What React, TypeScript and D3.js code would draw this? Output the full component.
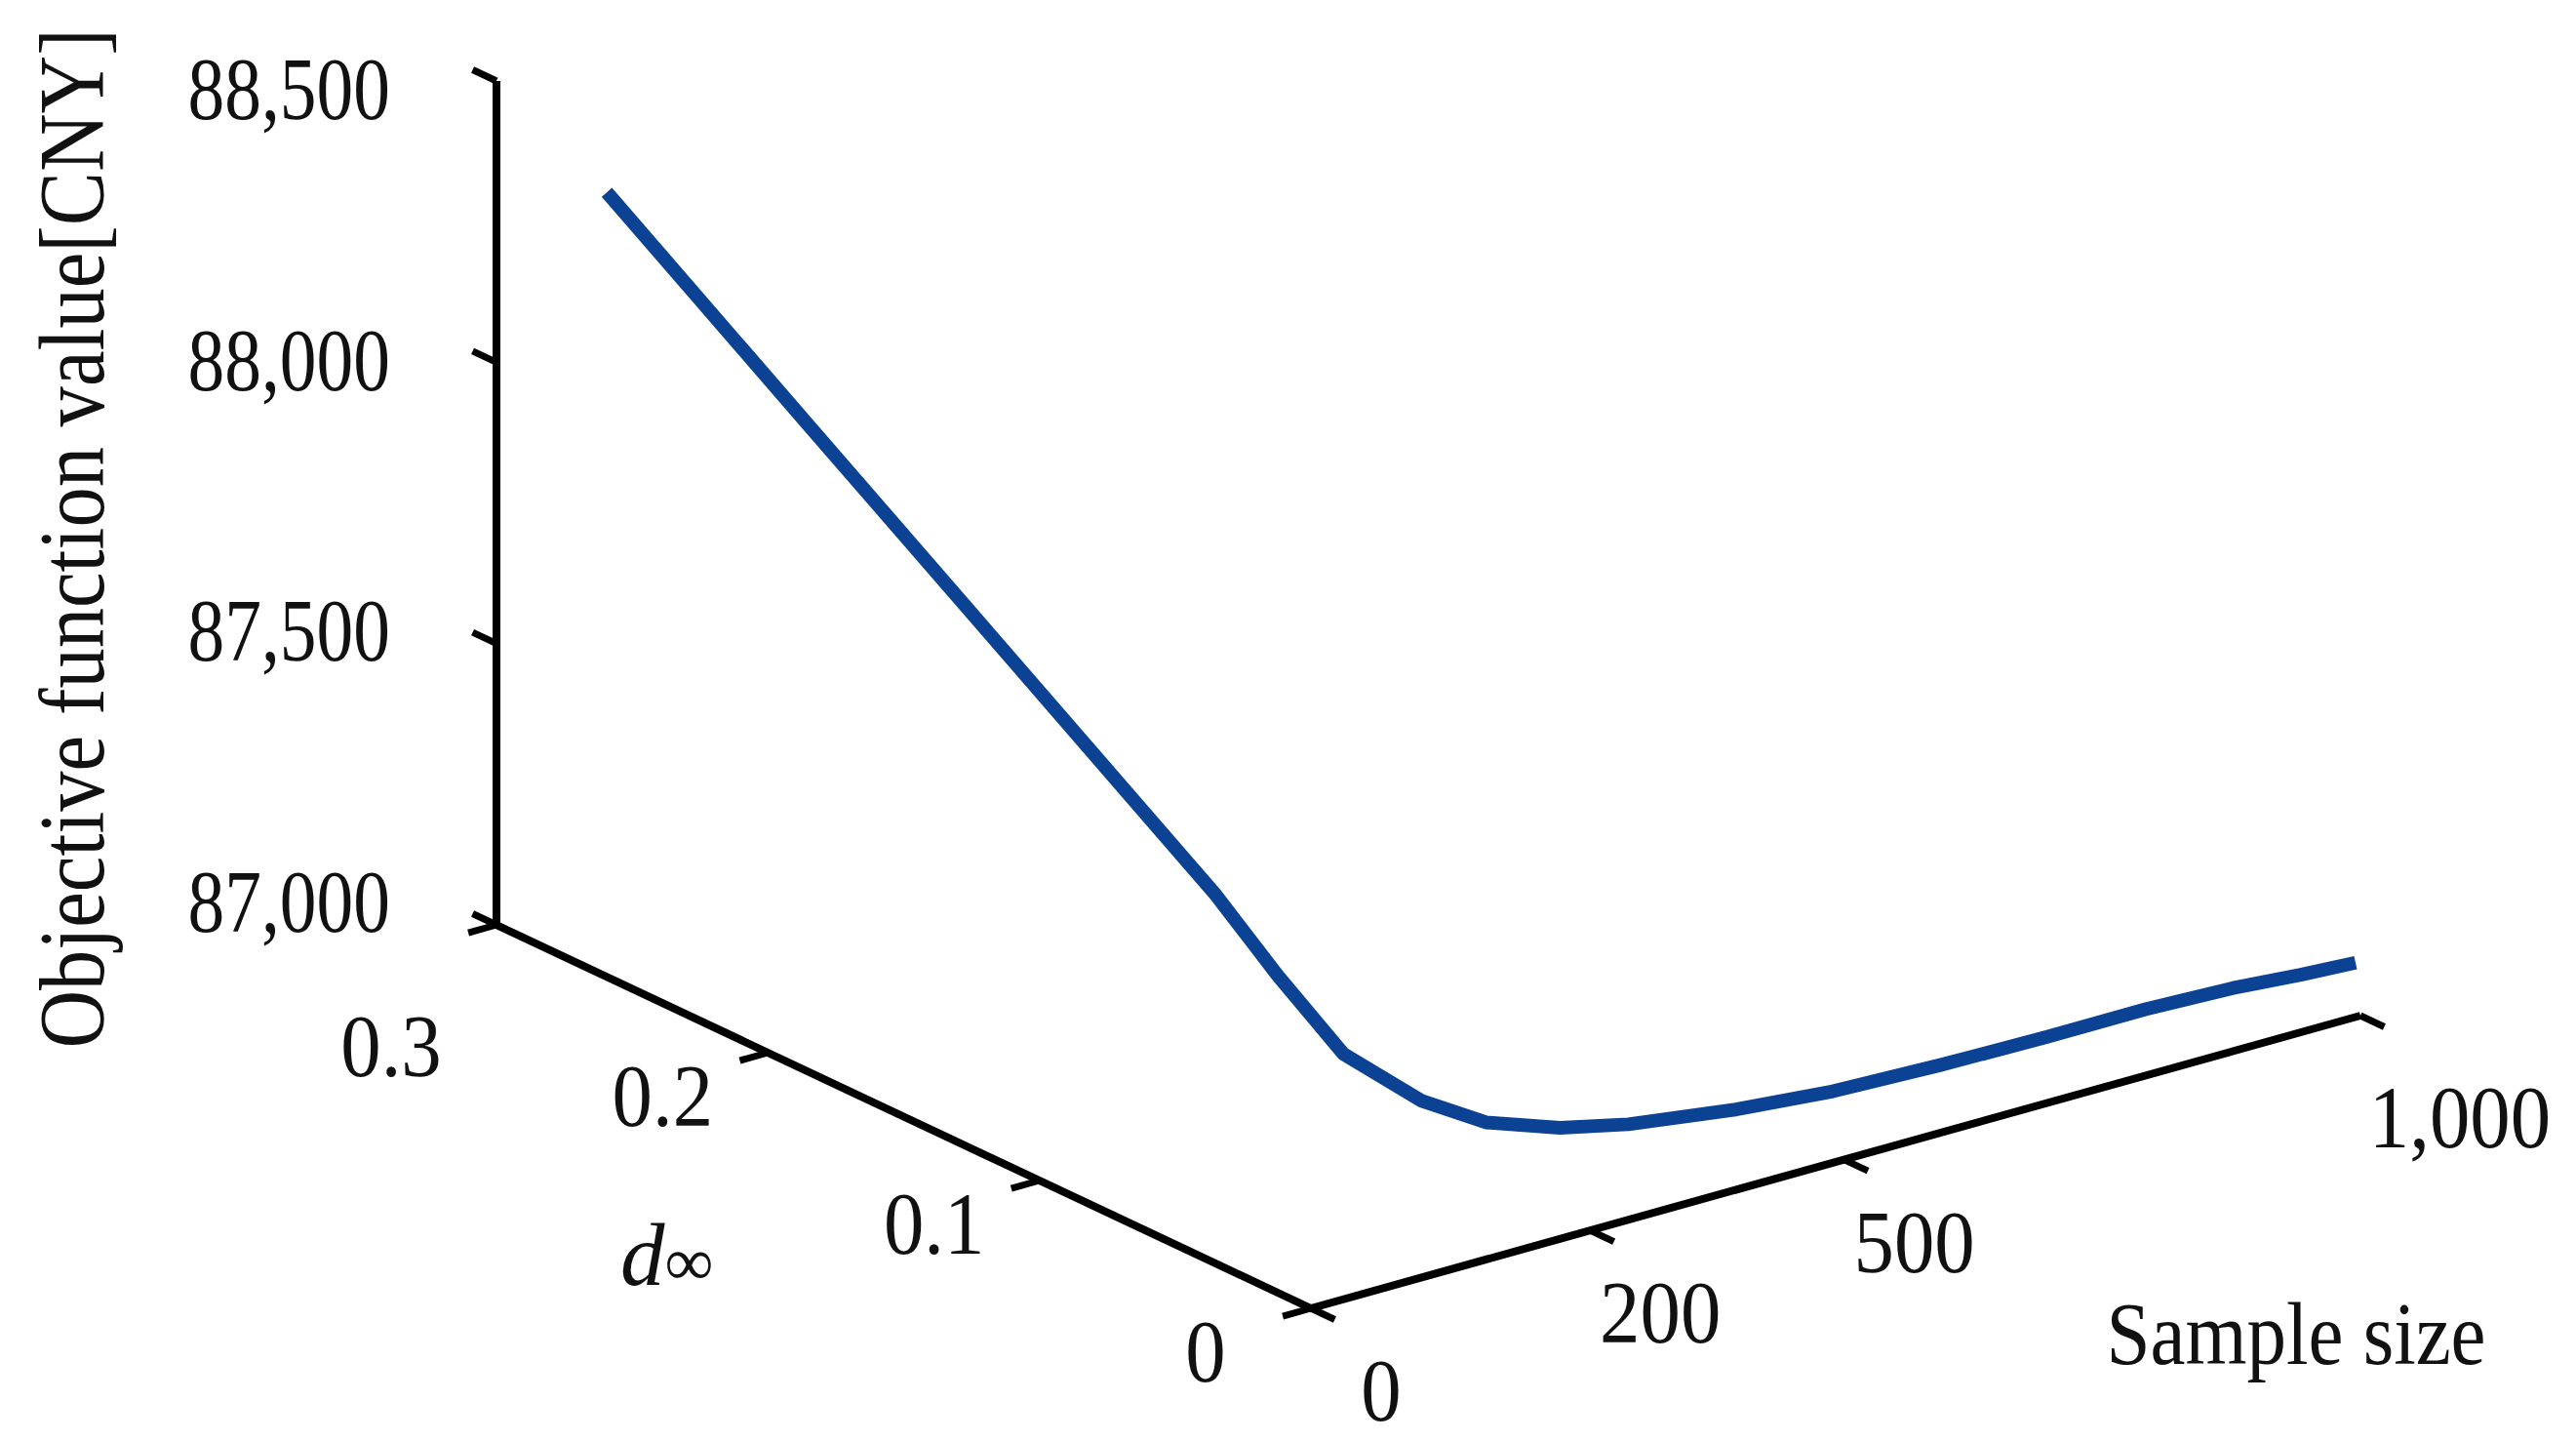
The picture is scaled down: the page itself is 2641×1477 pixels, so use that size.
import { useMemo } from "react";
import { scaleLinear, line, format } from "d3";

// values (sample size, d∞, objective value [CNY])
const SAMPLE_SIZE = [11, 30, 60, 107, 122, 140, 182, 231, 304, 370, 482, 567, 659, 750, 833, 906, 959, 1000];
const D_INF = [0.265, 0.2, 0.14, 0.09, 0.075, 0.06, 0.053, 0.048, 0.0435, 0.0389, 0.0342, 0.0296, 0.025, 0.0203, 0.0157, 0.0111, 0.0064, 0.0018];
const OBJECTIVE = [88374, 88092, 87788, 87456, 87337, 87219, 87123, 87070, 87040, 87029, 87019, 87020, 87030, 87044, 87061, 87072, 87079, 87090];

const Z_TICKS = [87000, 87500, 88000, 88500];
const D_TICKS = [0.3, 0.2, 0.1, 0];
const S_TICKS = [0, 200, 500, 1000];

const W = 2641;
const H = 1477;

// oblique projection frame
const ORIGIN = { x: 1344, y: 1341 }; // sample size 0, d∞ 0, 87,000
const S_VEC = { x: 1076, y: -300 }; // along the sample size axis
const D_VEC = { x: -835, y: -393 }; // from d∞ 0 to d∞ 0.3

const FONT = "'Liberation Serif', 'Times New Roman', serif";
const BLUE = "#0c4294";

export default function App() {
  const sFrac = scaleLinear().domain([0, 200, 500, 1000]).range([0, 0.266, 0.508, 1]);
  const dFrac = scaleLinear().domain([0, 0.3]).range([0, 1]);
  const zPix = scaleLinear().domain([87000, 88500]).range([0, 865]);

  const project = (s: number, d: number, z: number): [number, number] => [
    ORIGIN.x + sFrac(s) * S_VEC.x + dFrac(d) * D_VEC.x,
    ORIGIN.y + sFrac(s) * S_VEC.y + dFrac(d) * D_VEC.y - zPix(z),
  ];

  const points = useMemo(
    () => SAMPLE_SIZE.map((s, i) => project(s, D_INF[i], OBJECTIVE[i])),
    []
  );
  const path = line()(points) || "";

  const dLen = Math.hypot(D_VEC.x, D_VEC.y);
  const sLen = Math.hypot(S_VEC.x, S_VEC.y);
  const dDir = { x: D_VEC.x / dLen, y: D_VEC.y / dLen };
  const sDir = { x: S_VEC.x / sLen, y: S_VEC.y / sLen };

  const yTop = project(0, 0.3, 88500);
  const yBase = project(0, 0.3, 87000);
  const sEnd = project(1000, 0, 87000);
  const axisPath = `M${yTop[0]},${yTop[1]}L${yBase[0]},${yBase[1]}L${ORIGIN.x},${ORIGIN.y}L${sEnd[0]},${sEnd[1]}`;

  const fmt = format(",");
  const zMid = (zPix(87000) + zPix(88500)) / 2;

  return (
    <svg
      width={W}
      height={H}
      viewBox={`0 0 ${W} ${H}`}
      style={{ position: "absolute", left: 0, top: 0, background: "#fff" }}
    >
      <rect width={W} height={H} fill="#fff" />

      <path d={axisPath} fill="none" stroke="#000" strokeWidth={8} strokeLinejoin="miter" />

      {/* vertical axis ticks, drawn back along d∞ */}
      {Z_TICKS.map((z) => {
        const [x, y] = project(0, 0.3, z);
        const off = (zPix(z) - zMid) * 0.036;
        return (
          <g key={`z${z}`}>
            <line x1={x} y1={y} x2={x + dDir.x * 27} y2={y + dDir.y * 27} stroke="#000" strokeWidth={7} />
            <text
              transform={`translate(400,${y - 8 + off + 31}) scale(0.82,1)`}
              textAnchor="end"
              fontFamily={FONT}
              fontSize={92}
              fill="#111"
            >
              {fmt(z)}
            </text>
          </g>
        );
      })}

      {/* d∞ ticks */}
      {D_TICKS.map((d) => {
        const [x, y] = project(0, d, 87000);
        const nudge = d === 0.3 ? 80 : 0;
        return (
          <g key={`d${d}`}>
            <line x1={x} y1={y} x2={x - sDir.x * 30} y2={y - sDir.y * 30} stroke="#000" strokeWidth={7} />
            <text
              transform={`translate(${x - 108},${y + 44 + nudge + 31}) scale(0.9,1)`}
              textAnchor="middle"
              fontFamily={FONT}
              fontSize={92}
              fill="#111"
            >
              {String(d)}
            </text>
          </g>
        );
      })}

      {/* sample size ticks */}
      {S_TICKS.map((s) => {
        const [x, y] = project(s, 0, 87000);
        const nudge = s === 1000 ? { x: 30, y: 20 } : { x: 0, y: 0 };
        return (
          <g key={`s${s}`}>
            <line x1={x} y1={y} x2={x - dDir.x * 27} y2={y - dDir.y * 27} stroke="#000" strokeWidth={7} />
            <text
              transform={`translate(${x + 72 + nudge.x},${y + 84 + nudge.y + 31}) scale(0.9,1)`}
              textAnchor="middle"
              fontFamily={FONT}
              fontSize={92}
              fill="#111"
            >
              {fmt(s)}
            </text>
          </g>
        );
      })}

      <path d={path} fill="none" stroke={BLUE} strokeWidth={14} strokeLinejoin="round" />

      <text
        transform="translate(106,552) rotate(-90) scale(0.86,1)"
        textAnchor="middle"
        fontFamily={FONT}
        fontSize={96}
        fill="#111"
      >
        Objective function value[CNY]
      </text>

      <text x={636} y={1317} fontFamily={FONT} fontSize={91} fill="#111">
        <tspan fontStyle="italic">d</tspan>
        <tspan fontSize={70}>∞</tspan>
      </text>

      <text
        transform="translate(2354,1398) scale(0.9,1)"
        textAnchor="middle"
        fontFamily={FONT}
        fontSize={90}
        fill="#111"
      >
        Sample size
      </text>
    </svg>
  );
}
